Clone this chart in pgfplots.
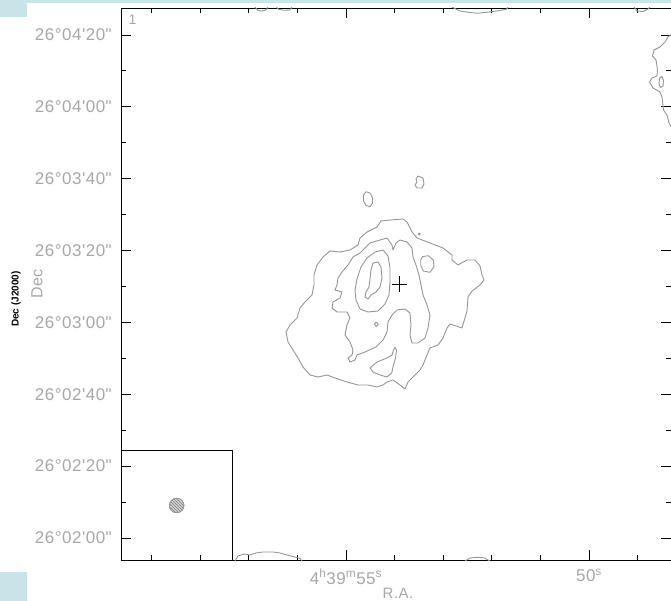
\documentclass[border=0pt]{standalone}
\usepackage{pgfplots}
\pgfplotsset{compat=1.18}
\usetikzlibrary{patterns}
\usepackage{fontspec}
\newfontfamily\labfont[LetterSpace=3]{Liberation Sans}
\newfontfamily\boldlab{Liberation Sans}
\definecolor{labgray}{RGB}{168,168,168}
\definecolor{cgray}{RGB}{150,150,150}
\definecolor{bgcyan}{RGB}{200,228,232}
\tikzset{cont/.style={cgray, line width=0.9pt, line join=round}}
\begin{document}
\begin{tikzpicture}
\begin{axis}[name=ax, scale only axis, width=550pt, height=552pt,
  xmin=121, xmax=671, ymin=8, ymax=560, y dir=reverse,
  axis line style={line width=0.9pt, black},
  xtick={346,589},
  xticklabels={4\textsuperscript{h}39\textsuperscript{m}55\textsuperscript{s}, 50\textsuperscript{s}},
  minor xtick={151.6,200.2,248.8,297.4,394.6,443.2,491.8,540.4,637.6},
  ytick={34.98,106.84,178.7,250.56,322.42,394.28,466.14,538},
  yticklabels={26°04'20", 26°04'00", 26°03'40", 26°03'20", 26°03'00", 26°02'40", 26°02'20", 26°02'00"},
  minor ytick={70.91,142.77,214.63,286.49,358.35,430.21,502.07},
  tick align=inside, major tick length=10pt, minor tick length=5pt,
  tick style={black, line width=0.9pt},
  ticklabel style={font=\labfont\fontsize{17}{17}\selectfont, text=labgray, inner sep=0pt},
  yticklabel style={anchor=east, xshift=-9pt},
  xticklabel style={anchor=north, yshift=-9pt},
]
% outer contour
\addplot[cont] coordinates {(381,221) (390,220) (403,219) (407,222) (412,232) (417,238) (430,243) (443,248) (452,255) (452,260) (458,265) (467,260) (475,260) (480,266) (482,275) (484,280) (480,285) (472,291) (468,297) (467,311) (462,328) (450,324) (447,328) (443,338) (438,345) (430,348) (427,355) (423,365) (420,370) (413,377) (408,382) (405,389) (400,385) (393,380) (387,382) (383,385) (377,387) (368,385) (358,385) (347,382) (335,378) (327,375) (318,377) (310,375) (303,367) (298,358) (293,350) (288,342) (286,332) (290,325) (297,318) (300,308) (305,302) (312,295) (314,285) (314,275) (317,265) (323,257) (330,251) (340,252) (350,250) (358,245) (360,238) (367,232) (377,227) (381,221)};
% second contour
\addplot[cont] coordinates {(380,240) (387,238) (392,245) (393,250) (396,243) (400,240) (407,242) (412,248) (413,257) (416,265) (419,275) (421,285) (423,295) (427,305) (430,315) (428,328) (425,338) (418,343) (412,343) (410,335) (411,325) (410,313) (405,309) (397,310) (392,315) (388,322) (387,332) (383,340) (380,343) (376,347) (365,352) (357,355) (355,360) (350,362) (348,358) (352,355) (353,350) (350,342) (345,335) (347,325) (350,318) (347,312) (337,312) (332,308) (333,302) (340,298) (342,292) (335,290) (337,285) (338,278) (342,272) (348,265) (353,257) (360,253) (365,248) (370,243) (380,240)};
% third contour
\addplot[cont] coordinates {(383,250) (388,256) (390,268) (390,282) (389,295) (385,304) (378,311) (368,312) (360,309) (356,300) (355,290) (357,279) (361,267) (367,258) (375,252) (383,250)};
% innermost
\addplot[cont] coordinates {(373,263) (378,262) (381,267) (382,278) (380,287) (376,292) (371,295) (368,299) (365,297) (366,292) (369,287) (370,279) (371,270) (373,263)};
% small closed contours
\addplot[cont] coordinates {(366,191.7) (370,193) (372.5,198) (372.5,203) (370,206.7) (366,205.5) (363.5,201) (363.5,195) (366,191.7)};
\addplot[cont] coordinates {(418,176) (423,178) (424,184) (422,188) (417,188) (415,185) (417,182) (416,179) (418,176)};
\addplot[cont] coordinates {(422.3,256.7) (428.3,255.7) (433.3,260) (434,266.7) (430,272.3) (423.3,271) (420.7,265) (420.7,260) (422.3,256.7)};
\addplot[cont] coordinates {(376.3,322) (378.3,324.2) (376.3,326.5) (374.3,324.2) (376.3,322)};
\addplot[cont] coordinates {(419.3,233) (420.3,234) (419.3,235) (418.3,234) (419.3,233)};
\addplot[cont] coordinates {(370,368) (377,362) (387,358) (392,355) (393.5,350) (395,347.5) (396.5,350) (395.5,358) (393.5,365) (391.7,373) (387,377) (380,375) (373,372) (370,368)};
% edge contours
\addplot[cont] coordinates {(255,7) (258,10.5) (262,11) (266,10) (268,7)};
\addplot[cont] coordinates {(276.7,7) (278,9) (283.3,10.3) (290,10) (292,7)};
\addplot[cont] coordinates {(451.7,7) (460,11) (470,12.5) (477,13.3) (485,12.5) (493,11.5) (500,10.5) (507,9) (508,7)};
\addplot[cont] coordinates {(634,7) (637,11) (643,11.5) (648,9) (650,7)};
\addplot[cont] coordinates {(235,561) (238,556) (244,554) (250,555) (256,553) (263,552) (273,552) (280,553) (287,555) (295,557) (300,558.5) (302,561)};
\addplot[cont] coordinates {(465,561) (470,558) (477,557.3) (484,557.8) (490,561)};
\addplot[cont] coordinates {(672,34) (668,37) (665,42) (660,47) (654,50) (652.5,56) (656,60) (657.5,70) (657,76) (652,78) (649.5,82) (653,88) (660,92) (662,97) (663.5,110) (667,115) (669,123) (672,128)};
\addplot[cont] coordinates {(659.5,78) (662,76.5) (663.5,80) (663,86) (660.5,87.5) (659,84) (659.5,78)};
% inset box, beam, cross
\addplot[black, line width=0.9pt] coordinates {(121,450.7) (232.3,450.7) (232.3,560)};
\addplot[only marks, mark=*, mark size=7.3pt, mark options={fill=gray!35, draw=gray!80, line width=0.6pt}] coordinates {(176.7,505.5)};
\addplot[only marks, mark=*, mark size=7.3pt, mark options={pattern=north west lines, pattern color=gray, draw=gray!80, line width=0.6pt}] coordinates {(176.7,505.5)};
\addplot[only marks, mark=+, mark size=7.5pt, mark options={black, line width=0.8pt}] coordinates {(399,284)};
\end{axis}
\fill[bgcyan] ([xshift=-121pt,yshift=8pt]ax.north west) rectangle ([yshift=5pt]ax.north east);
\fill[bgcyan] ([xshift=-121pt,yshift=8pt]ax.north west) rectangle ([xshift=-94pt,yshift=-9pt]ax.north west);
\fill[bgcyan] ([xshift=-121pt,yshift=-12pt]ax.south west) rectangle ([xshift=-94pt,yshift=-41pt]ax.south west);
\node[text=labgray, font=\labfont\fontsize{15}{15}\selectfont, inner sep=0pt, anchor=north] at ([xshift=277pt,yshift=-28pt]ax.south west) {R.A.};
\node[text=labgray, font=\labfont\fontsize{16}{16}\selectfont, inner sep=0pt, rotate=90] at ([xshift=-84pt]ax.west) {Dec};
\node[text=black, font=\boldlab\bfseries\fontsize{10}{10}\selectfont, inner sep=0pt, rotate=90] at ([xshift=-105pt,yshift=-15pt]ax.west) {Dec (J2000)};
\node[text=labgray, font=\labfont\fontsize{14}{14}\selectfont, inner sep=0pt] at ([xshift=11.5pt,yshift=-12pt]ax.north west) {1};
\pgfresetboundingbox
\path ([xshift=-121pt,yshift=-41pt]ax.south west) rectangle ([yshift=8pt]ax.north east);
\end{tikzpicture}
\end{document}
